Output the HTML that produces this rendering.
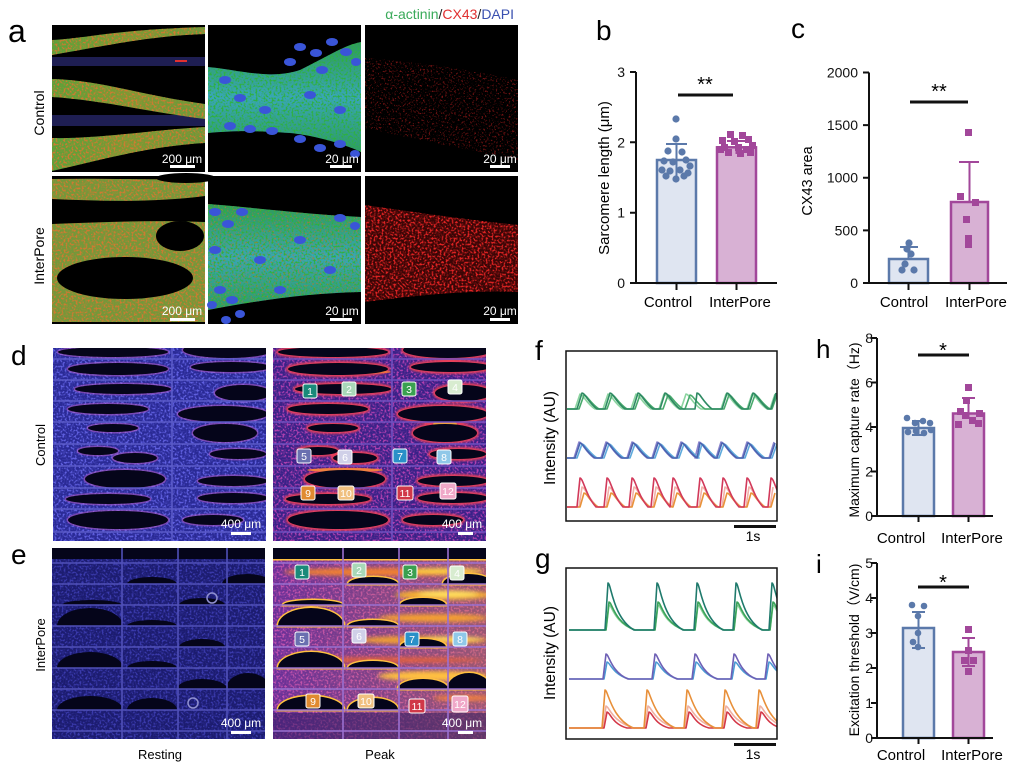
<!DOCTYPE html>
<html><head><meta charset="utf-8"><style>html,body{margin:0;padding:0;background:#fff}svg{display:block}</style></head>
<body>
<svg width="1018" height="768" viewBox="0 0 1018 768" xmlns="http://www.w3.org/2000/svg" font-family="'Liberation Sans','Noto Sans CJK SC',sans-serif">
<defs>
<filter id="spk1" x="0" y="0" width="1" height="1"><feTurbulence type="fractalNoise" baseFrequency="0.5" numOctaves="2" seed="3" result="n"/><feColorMatrix in="n" type="matrix" values="0 0 0 0 0 0 0 0 0 0 0 0 0 0 0 5 0 0 0 -2.4" result="m"/><feComposite in="SourceGraphic" in2="m" operator="in"/></filter>
<filter id="spk2" x="0" y="0" width="1" height="1"><feTurbulence type="fractalNoise" baseFrequency="0.55" numOctaves="2" seed="7" result="n"/><feColorMatrix in="n" type="matrix" values="0 0 0 0 0 0 0 0 0 0 0 0 0 0 0 6 0 0 0 -3.4" result="m"/><feComposite in="SourceGraphic" in2="m" operator="in"/></filter>
<filter id="blur2"><feGaussianBlur stdDeviation="2"/></filter>
<filter id="blur1"><feGaussianBlur stdDeviation="1"/></filter>
<linearGradient id="gband" x1="0" y1="0" x2="1" y2="0"><stop offset="0" stop-color="#5aa23a"/><stop offset="0.5" stop-color="#7c9a34"/><stop offset="1" stop-color="#6a9a3a"/></linearGradient>
<linearGradient id="gcy" x1="0" y1="0" x2="0" y2="1"><stop offset="0" stop-color="#2f9a5a"/><stop offset="0.5" stop-color="#38a6b8"/><stop offset="1" stop-color="#2e9a68"/></linearGradient>
<linearGradient id="gep" x1="0" y1="0" x2="1" y2="0"><stop offset="0" stop-color="#f0a030" stop-opacity="0"/><stop offset="1" stop-color="#f0a030" stop-opacity="0.35"/></linearGradient>
<path id="a1b" d="M52 40 C90 38 110 30 205 27 L205 34 C150 36 110 45 52 55 Z M52 79 C100 80 140 95 205 104 L205 119 C150 112 100 100 52 97 Z M52 138 C100 139 150 130 205 127 L205 143 C150 146 100 160 52 171 Z"/>
<path id="a2b" d="M208 67 C240 70 270 80 300 70 C330 55 345 45 361 42 L361 152 C340 142 310 135 290 133 C260 131 240 130 208 133 Z"/>
<path id="a5b" d="M208 204 C250 207 300 214 361 217 L361 292 C310 293 260 300 208 310 Z"/>
<path id="a3b" d="M365 58 C420 62 470 70 518 80 L518 160 C470 150 420 140 365 128 Z"/>
<path id="a6b" d="M365 205 C420 213 470 220 518 225 L518 292 C470 290 420 295 365 302 Z"/>
<clipPath id="c1b"><use href="#a1b"/></clipPath>
<clipPath id="c2b"><use href="#a2b"/></clipPath>
<clipPath id="c5b"><use href="#a5b"/></clipPath>
<clipPath id="c3b"><use href="#a3b"/></clipPath>
<clipPath id="c6b"><use href="#a6b"/></clipPath>
<clipPath id="cd"><rect x="0" y="0" width="213" height="193"/></clipPath>
<clipPath id="cf"><rect x="566" y="351" width="211" height="170"/></clipPath>
<clipPath id="cg"><rect x="566" y="568" width="211" height="171"/></clipPath>
<g id="dk">
<ellipse cx="175" cy="2" rx="45" ry="8"/><ellipse cx="60" cy="4" rx="55" ry="5"/>
<ellipse cx="65" cy="21" rx="50" ry="6"/><ellipse cx="178" cy="19" rx="40" ry="5"/>
<ellipse cx="70" cy="41" rx="48" ry="5"/><ellipse cx="190" cy="45" rx="28" ry="8"/>
<ellipse cx="55" cy="61" rx="40" ry="5"/><ellipse cx="170" cy="66" rx="45" ry="8"/>
<ellipse cx="60" cy="80" rx="25" ry="4"/><ellipse cx="172" cy="85" rx="32" ry="9"/>
<ellipse cx="45" cy="103" rx="20" ry="4"/><ellipse cx="82" cy="110" rx="22" ry="5"/>
<ellipse cx="185" cy="106" rx="28" ry="5"/><ellipse cx="72" cy="131" rx="40" ry="9"/>
<ellipse cx="180" cy="133" rx="35" ry="5"/><ellipse cx="55" cy="151" rx="42" ry="5"/>
<ellipse cx="180" cy="150" rx="35" ry="5"/><ellipse cx="65" cy="172" rx="50" ry="9"/>
<ellipse cx="160" cy="172" rx="30" ry="5"/>
</g>
<g id="dl" stroke-width="1.6">
<path d="M0 11H213M0 32H213M0 53H213M0 74H213M0 96H213M0 118H213M0 140H213M0 161H213M0 184H213M119 0V193"/>
</g>
<path id="ed" d="M0 0H213V11H0Z M75 36 A25 7 0 0 1 125 36Z M170 36 A25 10 0 0 1 220 36Z M127 57 A23 7 0 0 1 173 57Z M10 57 A30 5 0 0 1 70 57Z M5 78 A33 18 0 0 1 71 78Z M75 78 A25 6 0 0 1 125 78Z M127 99 A23 8 0 0 1 173 99Z M5 120 A33 16 0 0 1 71 120Z M75 120 A25 7 0 0 1 125 120Z M125 141 A25 10 0 0 1 175 141Z M174 141 A22 16 0 0 1 218 141Z M5 162 A33 14 0 0 1 71 162Z M75 162 A25 12 0 0 1 125 162Z"/>
<path id="el" d="M0 15H214M0 36H214M0 57H214M0 78H214M0 99H214M0 120H214M0 141H214M0 162H214M0 183H214M70 0V191M126 0V191M175 0V191"/>
</defs>
<rect width="1018" height="768" fill="#fff"/>

<!-- ===== Panel a ===== -->
<text x="8" y="42" font-size="32">a</text>
<text x="514" y="19" font-size="14" text-anchor="end"><tspan fill="#3aaa5a">α-actinin</tspan><tspan fill="#222">/</tspan><tspan fill="#e03030">CX43</tspan><tspan fill="#222">/</tspan><tspan fill="#3a50b0">DAPI</tspan></text>
<text transform="translate(44,113) rotate(-90)" font-size="14" text-anchor="middle">Control</text>
<text transform="translate(44,256) rotate(-90)" font-size="14" text-anchor="middle">InterPore</text>

<!-- a1 -->
<rect x="52" y="25" width="153" height="147" fill="#000"/>
<rect x="52" y="57" width="153" height="9" fill="#1e1e52"/>
<rect x="52" y="115" width="153" height="11" fill="#1e1e52"/>
<rect x="175" y="60" width="12" height="2" fill="#e03030"/>
<use href="#a1b" fill="url(#gband)"/>
<g clip-path="url(#c1b)"><rect x="52" y="25" width="153" height="147" fill="#d07a30" filter="url(#spk1)"/></g>
<!-- a4 -->
<rect x="52" y="176" width="153" height="148" fill="#74983a"/>
<rect x="52" y="176" width="153" height="148" fill="#d07a30" filter="url(#spk1)"/>
<path d="M52 176 H205 V179 C150 180 100 178 52 179 Z M52 199 C100 201 150 203 205 196 L205 222 C150 220 100 222 52 224 Z" fill="#000"/>
<ellipse cx="186" cy="178" rx="30" ry="5" fill="#000"/>
<ellipse cx="180" cy="236" rx="24" ry="15" fill="#000"/>
<ellipse cx="125" cy="278" rx="68" ry="21" fill="#000"/>
<rect x="52" y="322" width="153" height="2" fill="#000"/>
<!-- a2 -->
<rect x="208" y="25" width="153" height="147" fill="#000"/>
<use href="#a2b" fill="url(#gcy)"/>
<g clip-path="url(#c2b)"><rect x="208" y="25" width="153" height="147" fill="#2fb040" filter="url(#spk1)"/></g>
<g fill="#3a55d8">
<ellipse cx="300" cy="47" rx="6" ry="4"/><ellipse cx="316" cy="53" rx="6" ry="4"/><ellipse cx="332" cy="42" rx="6" ry="4"/><ellipse cx="346" cy="52" rx="6" ry="4"/><ellipse cx="356" cy="62" rx="5" ry="4"/><ellipse cx="290" cy="62" rx="6" ry="4"/><ellipse cx="322" cy="70" rx="6" ry="4"/>
<ellipse cx="230" cy="126" rx="6" ry="4"/><ellipse cx="250" cy="129" rx="6" ry="4"/><ellipse cx="272" cy="131" rx="6" ry="4"/><ellipse cx="300" cy="139" rx="6" ry="4"/><ellipse cx="320" cy="148" rx="6" ry="4"/><ellipse cx="340" cy="144" rx="6" ry="4"/><ellipse cx="355" cy="154" rx="5" ry="4"/>
<ellipse cx="240" cy="98" rx="6" ry="4"/><ellipse cx="265" cy="110" rx="6" ry="4"/><ellipse cx="310" cy="95" rx="6" ry="4"/><ellipse cx="340" cy="110" rx="6" ry="4"/><ellipse cx="225" cy="80" rx="6" ry="4"/>
</g>
<!-- a5 -->
<rect x="208" y="176" width="153" height="148" fill="#000"/>
<use href="#a5b" fill="url(#gcy)"/>
<g clip-path="url(#c5b)"><rect x="208" y="176" width="153" height="148" fill="#2fb040" filter="url(#spk1)"/><rect x="208" y="176" width="153" height="148" fill="#d07030" filter="url(#spk2)" opacity="0.6"/></g>
<g fill="#3a55d8">
<ellipse cx="215" cy="212" rx="6" ry="4"/><ellipse cx="228" cy="224" rx="6" ry="4"/><ellipse cx="242" cy="212" rx="6" ry="4"/><ellipse cx="215" cy="250" rx="6" ry="4"/><ellipse cx="220" cy="290" rx="6" ry="4"/><ellipse cx="232" cy="300" rx="6" ry="4"/><ellipse cx="240" cy="314" rx="5" ry="4"/><ellipse cx="226" cy="320" rx="5" ry="4"/><ellipse cx="212" cy="305" rx="5" ry="4"/>
<ellipse cx="340" cy="218" rx="6" ry="4"/><ellipse cx="355" cy="226" rx="5" ry="4"/><ellipse cx="260" cy="260" rx="6" ry="4"/><ellipse cx="300" cy="240" rx="6" ry="4"/><ellipse cx="330" cy="270" rx="6" ry="4"/><ellipse cx="280" cy="290" rx="6" ry="4"/>
</g>
<!-- a3 -->
<rect x="365" y="25" width="153" height="147" fill="#000"/>
<g clip-path="url(#c3b)"><rect x="365" y="25" width="153" height="147" fill="#ff2a2a" filter="url(#spk2)" opacity="0.45"/></g>
<!-- a6 -->
<rect x="365" y="176" width="153" height="148" fill="#000"/>
<use href="#a6b" fill="#3a0606"/>
<g clip-path="url(#c6b)"><rect x="365" y="176" width="153" height="148" fill="#ff2a2a" filter="url(#spk1)" opacity="0.85"/></g>

<!-- scale bars a -->
<g fill="#fff" font-size="12">
<text x="182" y="163" text-anchor="middle">200 μm</text><rect x="170" y="165" width="25" height="3"/>
<text x="182" y="315" text-anchor="middle">200 μm</text><rect x="170" y="318" width="25" height="3"/>
<text x="342" y="163" text-anchor="middle">20 μm</text><rect x="330" y="165" width="22" height="3"/>
<text x="342" y="315" text-anchor="middle">20 μm</text><rect x="330" y="318" width="22" height="3"/>
<text x="500" y="163" text-anchor="middle">20 μm</text><rect x="490" y="165" width="20" height="3"/>
<text x="500" y="315" text-anchor="middle">20 μm</text><rect x="490" y="318" width="20" height="3"/>
</g>

<!-- ===== Panel b ===== -->
<text x="596" y="40" font-size="28">b</text>
<g font-size="14" text-anchor="end" fill="#111">
<text x="625" y="288">0</text><text x="625" y="217.7">1</text><text x="625" y="147.3">2</text><text x="625" y="77">3</text>
</g>
<text transform="translate(609,178) rotate(-90)" font-size="15" text-anchor="middle">Sarcomere length (μm)</text>
<rect x="657" y="160" width="39" height="123" fill="#dfe5f1" stroke="#5b79aa" stroke-width="2.5"/>
<rect x="717" y="147.3" width="39" height="135.7" fill="#d8b1d4" stroke="#a2479a" stroke-width="2.5"/>
<g stroke="#5b79aa" stroke-width="2"><path d="M676.5 144V177M666 144H687"/></g>
<g stroke="#a2479a" stroke-width="2"><path d="M736.5 141V154M727 141H746"/></g>
<g fill="#5b79aa">
<circle cx="676" cy="119" r="3.6"/><circle cx="676" cy="139" r="3.6"/><circle cx="668" cy="151" r="3.6"/><circle cx="682" cy="152" r="3.6"/><circle cx="664" cy="161" r="3.6"/><circle cx="673" cy="162" r="3.6"/><circle cx="686" cy="160" r="3.6"/><circle cx="690" cy="166" r="3.6"/><circle cx="662" cy="170" r="3.6"/><circle cx="670" cy="171" r="3.6"/><circle cx="680" cy="170" r="3.6"/><circle cx="688" cy="173" r="3.6"/><circle cx="666" cy="176" r="3.6"/><circle cx="676" cy="179" r="3.6"/><circle cx="684" cy="176" r="3.6"/>
</g>
<g fill="#a2479a">
<rect x="727" y="131" width="7" height="7"/><rect x="739" y="132" width="7" height="7"/><rect x="719" y="137" width="7" height="7"/><rect x="731" y="138" width="7" height="7"/><rect x="745" y="136" width="7" height="7"/><rect x="749" y="142" width="7" height="7"/><rect x="721" y="144" width="7" height="7"/><rect x="735" y="144" width="7" height="7"/><rect x="743" y="146" width="7" height="7"/><rect x="725" y="149" width="7" height="7"/><rect x="737" y="150" width="7" height="7"/><rect x="717" y="146" width="7" height="7"/><rect x="747" y="149" width="7" height="7"/>
</g>
<g stroke="#111" stroke-width="2" fill="none"><path d="M636 72V283H777M630 72H636M630 142.3H636M630 212.7H636M630 283H636M676.5 283V290M736.5 283V290"/></g>
<path d="M678 95H733" stroke="#111" stroke-width="3"/>
<text x="705" y="91" font-size="20" text-anchor="middle">**</text>
<g font-size="15" text-anchor="middle"><text x="668" y="307">Control</text><text x="740" y="307">InterPore</text></g>

<!-- ===== Panel c ===== -->
<text x="791" y="38" font-size="28">c</text>
<g font-size="14" text-anchor="end" fill="#111">
<text x="858" y="288">0</text><text x="858" y="235.4">500</text><text x="858" y="182.7">1000</text><text x="858" y="130.1">1500</text><text x="858" y="77.5">2000</text>
</g>
<text transform="translate(812,181) rotate(-90)" font-size="14.5" text-anchor="middle">CX43 area</text>
<rect x="889" y="259" width="39" height="24" fill="#dfe5f1" stroke="#5b79aa" stroke-width="2.5"/>
<rect x="951" y="202" width="37" height="81" fill="#d8b1d4" stroke="#a2479a" stroke-width="2.5"/>
<path d="M908.5 247V259M900 247H918" stroke="#5b79aa" stroke-width="2"/>
<path d="M969.5 162V202M959 162H979" stroke="#a2479a" stroke-width="2"/>
<g fill="#5b79aa"><circle cx="909" cy="243" r="3.6"/><circle cx="907" cy="249" r="3.6"/><circle cx="911" cy="254" r="3.6"/><circle cx="905" cy="264" r="3.6"/><circle cx="902" cy="270" r="3.6"/><circle cx="914" cy="270" r="3.6"/></g>
<g fill="#a2479a"><rect x="965" y="129" width="7" height="7"/><rect x="957" y="193" width="7" height="7"/><rect x="972" y="199" width="7" height="7"/><rect x="963" y="216" width="7" height="7"/><rect x="965" y="235" width="7" height="7"/><rect x="965" y="241" width="7" height="7"/></g>
<g stroke="#111" stroke-width="2" fill="none"><path d="M869 72.5V283H1007M863 72.5H869M863 125.1H869M863 177.7H869M863 230.4H869M863 283H869M908.5 283V290M969.5 283V290"/></g>
<path d="M910 102H968" stroke="#111" stroke-width="3"/>
<text x="939" y="98" font-size="20" text-anchor="middle">**</text>
<g font-size="15" text-anchor="middle"><text x="904" y="307">Control</text><text x="976" y="307">InterPore</text></g>

<!-- ===== Panels d / e ===== -->
<text x="11" y="365" font-size="28">d</text>
<text x="11" y="564" font-size="28">e</text>
<text transform="translate(45,445) rotate(-90)" font-size="13" text-anchor="middle">Control</text>
<text transform="translate(45,645) rotate(-90)" font-size="13" text-anchor="middle">InterPore</text>
<g font-size="13" text-anchor="middle"><text x="160" y="759">Resting</text><text x="380" y="759">Peak</text></g>

<!-- d resting -->
<g transform="translate(53,348)" clip-path="url(#cd)">
<rect width="213" height="193" fill="#2a2a96"/>
<rect width="213" height="193" fill="#6060e0" filter="url(#spk1)"/>
<use href="#dk" fill="none" stroke="#c060c8" stroke-width="3" opacity="0.5"/>
<use href="#dk" fill="#05051a"/>
<use href="#dl" stroke="#5a5ac8"/>
</g>
<!-- d peak -->
<g transform="translate(273,348)" clip-path="url(#cd)">
<rect width="214" height="194" fill="#3a2288"/>
<rect width="214" height="194" fill="#b040b0" filter="url(#spk1)"/>
<g filter="url(#blur1)"><use href="#dk" fill="none" stroke="#e8405a" stroke-width="4"/></g>
<ellipse cx="78" cy="24" rx="40" ry="2" fill="#f07040"/>
<ellipse cx="72" cy="122" rx="38" ry="2" fill="#f08040"/>
<ellipse cx="172" cy="76" rx="12" ry="3" fill="#f0a040"/>
<use href="#dk" fill="#05051a"/>
<use href="#dl" stroke="#7050c0"/>
</g>
<!-- e resting -->
<g transform="translate(52,548)" clip-path="url(#cd)">
<rect width="214" height="191" fill="#1c1c70"/>
<rect width="214" height="191" fill="#4848c8" filter="url(#spk1)" opacity="0.7"/>
<use href="#ed" fill="#05051a"/>
<use href="#el" stroke="#5050b8" stroke-width="1.6"/>
<circle cx="160" cy="50" r="5" fill="none" stroke="#9090d0" stroke-width="1.5"/>
<circle cx="141" cy="155" r="5" fill="none" stroke="#9090d0" stroke-width="1.5"/>
</g>
<!-- e peak -->
<g transform="translate(273,548)" clip-path="url(#cd)">
<rect width="214" height="191" fill="#6a3098"/>
<rect width="214" height="191" fill="#c050b0" filter="url(#spk1)"/>
<rect width="214" height="191" fill="url(#gep)"/>
<g filter="url(#blur2)">
<ellipse cx="110" cy="24" rx="100" ry="4" fill="#f08030"/><ellipse cx="170" cy="23" rx="40" ry="3" fill="#ffd040"/>
<ellipse cx="170" cy="47" rx="48" ry="5" fill="#f5b030"/><ellipse cx="175" cy="46" rx="30" ry="3" fill="#ffe060"/>
<ellipse cx="160" cy="70" rx="55" ry="4" fill="#f5a030"/>
<ellipse cx="150" cy="92" rx="65" ry="4" fill="#f0a030"/><ellipse cx="180" cy="91" rx="30" ry="2" fill="#ffe060"/>
<ellipse cx="110" cy="112" rx="100" ry="3" fill="#e06040"/>
<ellipse cx="160" cy="128" rx="55" ry="5" fill="#ffc040"/>
<ellipse cx="190" cy="150" rx="30" ry="3" fill="#f08040"/>
</g>
<rect y="165" width="214" height="26" fill="#2a1860" opacity="0.5"/>
<use href="#ed" fill="none" stroke="#ffc040" stroke-width="3"/>
<use href="#ed" fill="#05051a"/>
<use href="#el" stroke="#9a70d0" stroke-width="1.6"/>
</g>

<!-- scale bars d/e -->
<g fill="#fff" font-size="12" text-anchor="middle">
<text x="241" y="528">400 μm</text><rect x="231" y="532" width="20" height="3"/>
<text x="462" y="528">400 μm</text><rect x="458" y="532" width="15" height="3"/>
<text x="241" y="727">400 μm</text><rect x="231" y="731" width="20" height="3"/>
<text x="462" y="727">400 μm</text><rect x="458" y="731" width="15" height="3"/>
</g>

<!-- number labels -->
<g font-size="10.5" text-anchor="middle" fill="#fff" stroke-width="1">
<g transform="translate(310,391)"><rect x="-7" y="-7" width="14" height="14" rx="2" fill="#1a8a7a" stroke="#fff"/><text y="4">1</text></g>
<g transform="translate(349,389)"><rect x="-7" y="-7" width="14" height="14" rx="2" fill="#a8d8b8" stroke="#fff"/><text y="4">2</text></g>
<g transform="translate(409,389)"><rect x="-7" y="-7" width="14" height="14" rx="2" fill="#3aa050" stroke="#fff"/><text y="4">3</text></g>
<g transform="translate(455,387)"><rect x="-7" y="-7" width="14" height="14" rx="2" fill="#d8ecd0" stroke="#fff"/><text y="4">4</text></g>
<g transform="translate(304,456)"><rect x="-7" y="-7" width="14" height="14" rx="2" fill="#6a70b0" stroke="#fff"/><text y="4">5</text></g>
<g transform="translate(345,457)"><rect x="-7" y="-7" width="14" height="14" rx="2" fill="#d0d0e8" stroke="#fff"/><text y="4">6</text></g>
<g transform="translate(400,456)"><rect x="-7" y="-7" width="14" height="14" rx="2" fill="#2a90c8" stroke="#fff"/><text y="4">7</text></g>
<g transform="translate(444,457)"><rect x="-7" y="-7" width="14" height="14" rx="2" fill="#90c8e8" stroke="#fff"/><text y="4">8</text></g>
<g transform="translate(308,493)"><rect x="-7" y="-7" width="14" height="14" rx="2" fill="#e08a30" stroke="#fff"/><text y="4">9</text></g>
<g transform="translate(346,493)"><rect x="-8" y="-7" width="16" height="14" rx="2" fill="#f0c080" stroke="#fff"/><text y="4">10</text></g>
<g transform="translate(405,493)"><rect x="-8" y="-7" width="16" height="14" rx="2" fill="#d03848" stroke="#fff"/><text y="4">11</text></g>
<g transform="translate(448,491)"><rect x="-8" y="-8" width="16" height="16" rx="2" fill="#f0a8c8" stroke="#fff"/><text y="4">12</text></g>

<g transform="translate(302,572)"><rect x="-7" y="-7" width="14" height="14" rx="2" fill="#1a8a7a" stroke="#fff"/><text y="4">1</text></g>
<g transform="translate(359,570)"><rect x="-7" y="-7" width="14" height="14" rx="2" fill="#a8d8b8" stroke="#fff"/><text y="4">2</text></g>
<g transform="translate(410,572)"><rect x="-7" y="-7" width="14" height="14" rx="2" fill="#3aa050" stroke="#fff"/><text y="4">3</text></g>
<g transform="translate(457,573)"><rect x="-7" y="-7" width="14" height="14" rx="2" fill="#d8ecd0" stroke="#fff"/><text y="4">4</text></g>
<g transform="translate(302,639)"><rect x="-7" y="-7" width="14" height="14" rx="2" fill="#6a70b0" stroke="#fff"/><text y="4">5</text></g>
<g transform="translate(359,636)"><rect x="-7" y="-7" width="14" height="14" rx="2" fill="#d0d0e8" stroke="#fff"/><text y="4">6</text></g>
<g transform="translate(412,639)"><rect x="-7" y="-7" width="14" height="14" rx="2" fill="#2a90c8" stroke="#fff"/><text y="4">7</text></g>
<g transform="translate(460,639)"><rect x="-7" y="-7" width="14" height="14" rx="2" fill="#90c8e8" stroke="#fff"/><text y="4">8</text></g>
<g transform="translate(313,701)"><rect x="-7" y="-7" width="14" height="14" rx="2" fill="#e08a30" stroke="#fff"/><text y="4">9</text></g>
<g transform="translate(366,701)"><rect x="-8" y="-7" width="16" height="14" rx="2" fill="#f0c080" stroke="#fff"/><text y="4">10</text></g>
<g transform="translate(417,706)"><rect x="-8" y="-7" width="16" height="14" rx="2" fill="#d03848" stroke="#fff"/><text y="4">11</text></g>
<g transform="translate(460,704)"><rect x="-8" y="-8" width="16" height="16" rx="2" fill="#f0a8c8" stroke="#fff"/><text y="4">12</text></g>
</g>

<!-- ===== Panel f ===== -->
<text x="535" y="360" font-size="28">f</text>
<text transform="translate(555,438) rotate(-90)" font-size="15.5" text-anchor="middle">Intensity (AU)</text>
<g clip-path="url(#cf)" fill="none" stroke-width="1.6" stroke-linejoin="round">
<path stroke="#8cd4a0" d="M567 409 H575 l5 -15 c3 0 6 9 15 15 H603 l5 -15 c3 0 6 9 15 15 H631 l5 -15 c3 0 6 9 15 15 H659 l5 -15 c3 0 6 9 15 15 H681 l5 -15 c3 0 6 9 15 15 H721 l5 -15 c3 0 6 9 15 15 H747 l5 -15 c3 0 6 9 15 15 H770 l5 -15"/>
<path stroke="#48aa6c" d="M567 409 H579 l5 -14 c3 0 6 8 15 14 H607 l5 -14 c3 0 6 8 15 14 H635 l5 -14 c3 0 6 8 15 14 H663 l5 -14 c3 0 6 8 15 14 H685 l5 -14 c3 0 6 8 15 14 H724 l5 -14 c3 0 6 8 15 14 H750 l5 -14 c3 0 6 8 15 14 H772 l5 -14"/>
<path stroke="#2e8a63" d="M567 409 H577 l5 -16 c3 0 6 9 15 16 H605 l5 -16 c3 0 6 9 15 16 H633 l5 -16 c3 0 6 9 15 16 H660 l5 -16 c3 0 6 9 15 16 H695 l2 -16 c3 0 6 9 15 16 H722 l5 -16 c3 0 6 9 15 16 H748 l5 -16 c3 0 6 9 15 16 H771 l5 -16"/>
<path stroke="#8c84cc" d="M567 458 H574 l5 -16 c3 0 6 9 15 16 H601 l5 -16 c3 0 6 9 15 16 H627 l5 -16 c3 0 6 9 15 16 H652 l5 -16 c3 0 6 9 15 16 H676 l5 -16 c3 0 6 9 15 16 H695 l4 -16 c3 0 6 9 15 16 H716 l5 -16 c3 0 6 9 15 16 H742 l5 -16 c3 0 6 9 15 16 H769 l5 -16"/>
<path stroke="#5eaadc" d="M567 458 H577 l5 -14 c3 0 6 8 15 14 H604 l5 -14 c3 0 6 8 15 14 H630 l5 -14 c3 0 6 8 15 14 H655 l5 -14 c3 0 6 8 15 14 H679 l5 -14 c3 0 6 8 15 14 H698 l4 -14 c3 0 6 8 15 14 H719 l5 -14 c3 0 6 8 15 14 H745 l5 -14 c3 0 6 8 15 14 H772 l5 -14"/>
<path stroke="#4a64b0" d="M567 458 H575 l5 -15 c3 0 6 9 15 15 H602 l5 -15 c3 0 6 9 15 15 H628 l5 -15 c3 0 6 9 15 15 H653 l5 -15 c3 0 6 9 15 15 H677 l5 -15 c3 0 6 9 15 15 H697 l3 -15 c3 0 6 9 15 15 H717 l5 -15 c3 0 6 9 15 15 H743 l5 -15 c3 0 6 9 15 15 H770 l5 -15"/>
<path stroke="#f2b0a8" d="M567 507 H579 l3 -20 c3 0 6 12 16 20 H606 l3 -20 c3 0 6 12 16 20 H631 l3 -20 c3 0 6 12 16 20 H653 l3 -20 c3 0 6 12 16 20 H672 l3 -20 c3 0 6 12 16 20 H699 l3 -20 c3 0 6 12 16 20 H722 l3 -20 c3 0 6 12 16 20 H746 l3 -20 c3 0 6 12 16 20 H770 l3 -20"/>
<path stroke="#e8923a" d="M567 507 H580 l4 -14 c3 0 6 9 14 14 H607 l4 -14 c3 0 6 9 14 14 H632 l4 -14 c3 0 6 9 14 14 H654 l4 -14 c3 0 6 9 14 14 H673 l4 -14 c3 0 6 9 14 14 H700 l4 -14 c3 0 6 9 14 14 H723 l4 -14 c3 0 6 9 14 14 H747 l4 -14 c3 0 6 9 14 14 H771 l4 -14"/>
<path stroke="#d2395a" d="M567 507 H577 l3 -29 c3 0 6 18 16 29 H604 l3 -29 c3 0 6 18 16 29 H629 l3 -29 c3 0 6 18 16 29 H651 l3 -29 c3 0 6 18 16 29 H670 l3 -29 c3 0 6 18 16 29 H697 l3 -29 c3 0 6 18 16 29 H720 l3 -29 c3 0 6 18 16 29 H744 l3 -29 c3 0 6 18 16 29 H768 l3 -29 c3 0 6 18 16 29"/>
</g>
<rect x="566" y="351" width="211" height="170" fill="none" stroke="#111" stroke-width="1.5"/>
<rect x="734" y="525" width="42" height="3" fill="#111"/>
<text x="753" y="541" font-size="14" text-anchor="middle">1s</text>

<!-- ===== Panel g ===== -->
<text x="535" y="568" font-size="28">g</text>
<text transform="translate(555,653) rotate(-90)" font-size="15.5" text-anchor="middle">Intensity (AU)</text>
<g clip-path="url(#cg)" fill="none" stroke-width="1.6" stroke-linejoin="round">
<path stroke="#8cd09a" d="M569 630 H606 l3 -25 c3 0 5 18 26 25 H655 l3 -25 c3 0 5 18 26 25 H695 l3 -25 c3 0 5 18 26 25 H734 l3 -25 c3 0 5 18 26 25 H770 l3 -25 c3 0 5 18 26 25"/>
<path stroke="#3aa35a" d="M569 630 H606 l3 -28 c3 0 5 20 26 28 H655 l3 -28 c3 0 5 20 26 28 H695 l3 -28 c3 0 5 20 26 28 H734 l3 -28 c3 0 5 20 26 28 H770 l3 -28 c3 0 5 20 26 28"/>
<path stroke="#1f7a6c" d="M569 630 H605 l3 -47 c3 0 5 35 26 47 H654 l3 -47 c3 0 5 35 26 47 H694 l3 -47 c3 0 5 35 26 47 H733 l3 -47 c3 0 5 35 26 47 H769 l3 -47 c3 0 5 35 26 47"/>
<path stroke="#4a9ad4" d="M569 679 H604 l3 -17 c3 0 5 12 22 17 H653 l3 -17 c3 0 5 12 22 17 H693 l3 -17 c3 0 5 12 22 17 H732 l3 -17 c3 0 5 12 22 17 H766 l3 -17 c3 0 5 12 22 17"/>
<path stroke="#6d5fb5" d="M569 679 H603 l3 -25 c3 0 5 18 22 25 H652 l3 -25 c3 0 5 18 22 25 H692 l3 -25 c3 0 5 18 22 25 H731 l3 -25 c3 0 5 18 22 25 H765 l3 -25 c3 0 5 18 22 25"/>
<path stroke="#f0b0a0" d="M569 728 H603 l3 -22 c3 0 6 16 28 22 H645 l3 -22 c3 0 6 16 28 22 H685 l3 -22 c3 0 6 16 28 22 H723 l3 -22 c3 0 6 16 28 22 H757 l3 -22 c3 0 6 16 28 22"/>
<path stroke="#d43848" d="M569 728 H604 l3 -16 c3 0 5 12 20 16 H646 l3 -16 c3 0 5 12 20 16 H686 l3 -16 c3 0 5 12 20 16 H724 l3 -16 c3 0 5 12 20 16 H758 l3 -16 c3 0 5 12 20 16"/>
<path stroke="#e8903a" d="M569 728 H602 l3 -38 c3 0 6 28 28 38 H644 l3 -38 c3 0 6 28 28 38 H684 l3 -38 c3 0 6 28 28 38 H722 l3 -38 c3 0 6 28 28 38 H756 l3 -38 c3 0 6 28 28 38"/>
</g>
<rect x="566" y="568" width="211" height="171" fill="none" stroke="#111" stroke-width="1.5"/>
<rect x="734" y="743" width="42" height="3" fill="#111"/>
<text x="753" y="759" font-size="14" text-anchor="middle">1s</text>

<!-- ===== Panel h ===== -->
<text x="816" y="358" font-size="26">h</text>
<g font-size="14" text-anchor="end" fill="#111">
<text x="873" y="521">0</text><text x="873" y="476.5">2</text><text x="873" y="432">4</text><text x="873" y="387.5">6</text><text x="873" y="343">8</text>
</g>
<text transform="translate(859,430) rotate(-90)" font-size="14" text-anchor="middle">Maximum capture rate（Hz)</text>
<rect x="903" y="428" width="31" height="88" fill="#dfe5f1" stroke="#5b79aa" stroke-width="2.5"/>
<rect x="953" y="413.5" width="31" height="102.5" fill="#d8b1d4" stroke="#a2479a" stroke-width="2.5"/>
<path d="M918.5 421V435M912 421H925M912 435H925" stroke="#5b79aa" stroke-width="2"/>
<path d="M968.5 398V418M962 398H975M962 418H975" stroke="#a2479a" stroke-width="2"/>
<g fill="#5b79aa"><circle cx="907" cy="418" r="3.3"/><circle cx="915" cy="423" r="3.3"/><circle cx="923" cy="421" r="3.3"/><circle cx="930" cy="423" r="3.3"/><circle cx="908" cy="432" r="3.3"/><circle cx="916" cy="431" r="3.3"/><circle cx="924" cy="433" r="3.3"/><circle cx="931" cy="430" r="3.3"/></g>
<g fill="#a2479a"><rect x="965" y="384" width="7" height="7"/><rect x="963" y="397" width="7" height="7"/><rect x="957" y="408" width="7" height="7"/><rect x="976" y="410" width="7" height="7"/><rect x="969" y="417" width="7" height="7"/><rect x="955" y="421" width="7" height="7"/><rect x="975" y="420" width="7" height="7"/><rect x="962" y="412" width="7" height="7"/></g>
<g stroke="#111" stroke-width="2" fill="none"><path d="M877 338V516H993M871 338H877M871 382.5H877M871 427H877M871 471.5H877M871 516H877M918.5 516V522M968.5 516V522"/></g>
<path d="M918 355H969" stroke="#111" stroke-width="3"/>
<text x="943" y="357" font-size="20" text-anchor="middle">*</text>
<g font-size="15" text-anchor="middle"><text x="901" y="543">Control</text><text x="972" y="543">InterPore</text></g>

<!-- ===== Panel i ===== -->
<text x="816" y="573" font-size="26">i</text>
<g font-size="14" text-anchor="end" fill="#111">
<text x="873" y="743">0</text><text x="873" y="708">1</text><text x="873" y="673">2</text><text x="873" y="638">3</text><text x="873" y="603">4</text><text x="873" y="568">5</text>
</g>
<text transform="translate(859,650) rotate(-90)" font-size="14" text-anchor="middle">Excitation threshold（V/cm)</text>
<rect x="903" y="628" width="31" height="110" fill="#dfe5f1" stroke="#5b79aa" stroke-width="2.5"/>
<rect x="953" y="652" width="31" height="86" fill="#d8b1d4" stroke="#a2479a" stroke-width="2.5"/>
<path d="M918.5 612V648M912 612H925M912 648H925" stroke="#5b79aa" stroke-width="2"/>
<path d="M968.5 638V666M962 638H975M962 666H975" stroke="#a2479a" stroke-width="2"/>
<g fill="#5b79aa"><circle cx="912" cy="605" r="3.3"/><circle cx="924" cy="606" r="3.3"/><circle cx="918" cy="616" r="3.3"/><circle cx="918" cy="633" r="3.3"/><circle cx="913" cy="642" r="3.3"/><circle cx="918" cy="647" r="3.3"/></g>
<g fill="#a2479a"><rect x="965" y="626" width="7" height="7"/><rect x="965" y="647" width="7" height="7"/><rect x="961" y="657" width="7" height="7"/><rect x="970" y="657" width="7" height="7"/><rect x="965" y="668" width="7" height="7"/></g>
<g stroke="#111" stroke-width="2" fill="none"><path d="M877 563V738H993M871 563H877M871 598H877M871 633H877M871 668H877M871 703H877M871 738H877M918.5 738V744M968.5 738V744"/></g>
<path d="M918 587H969" stroke="#111" stroke-width="3"/>
<text x="943" y="589" font-size="20" text-anchor="middle">*</text>
<g font-size="15" text-anchor="middle"><text x="901" y="760">Control</text><text x="972" y="760">InterPore</text></g>
</svg>
</body></html>
